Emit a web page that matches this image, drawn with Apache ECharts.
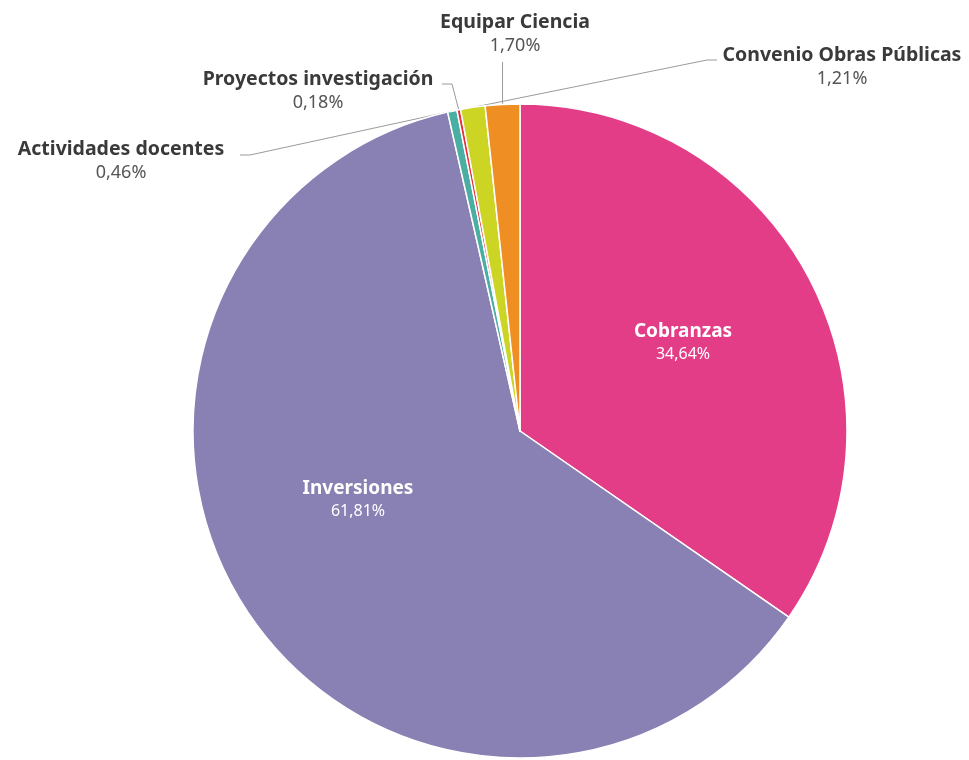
<!DOCTYPE html>
<html>
<head>
<meta charset="utf-8">
<script src="https://cdn.jsdelivr.net/npm/echarts@6/dist/echarts.min.js"></script>
<style>
html,body{margin:0;padding:0;background:#fff;}
#chart{width:969px;height:760px;}
</style>
</head>
<body>
<div id="chart"></div>
<script>
const categories = ['Cobranzas', 'Inversiones', 'Actividades docentes', 'Proyectos investigación', 'Convenio Obras Públicas', 'Equipar Ciencia'];
const values = [34.64, 61.81, 0.46, 0.18, 1.21, 1.70];
const colors = ['#e43d87', '#8980b4', '#4aaea3', '#e8303a', '#ccd424', '#ef8e23'];
const insideLabels = [true, true, false, false, false, false];

// label anchor positions (label box centers) and line elbows
const labelPos = [
  [683, 342],
  [358, 499],
  [121, 160],
  [318, 90],
  [842, 66],
  [515, 33]
];
const lineEnds = [
  null,
  null,
  [[250, 155], [240, 155]],
  [[452, 84], [442, 84]],
  [[707, 60], [717, 60]],
  null
];

const fmt = v => v.toFixed(2).replace('.', ',') + '%';

const data = categories.map((c, i) => ({
  name: c,
  value: values[i],
  itemStyle: { color: colors[i] },
  label: insideLabels[i]
    ? { position: 'inside', rich: { n: { color: '#fff', fontSize: 19, fontWeight: 'bold', fontFamily: 'Noto Sans', lineHeight: 24 }, v: { color: '#fff', fontSize: 16, fontFamily: 'Noto Sans', lineHeight: 20 } } }
    : { position: 'outside' },
  labelLine: { show: !insideLabels[i] }
}));

const chart = echarts.init(document.getElementById('chart'));
chart.setOption({
  animation: false,
  series: [{
    type: 'pie',
    center: [520, 431],
    radius: [0, 327],
    startAngle: 90,
    clockwise: true,
    avoidLabelOverlap: false,
    data: data,
    itemStyle: { borderColor: '#fff', borderWidth: 1.5 },
    label: {
      show: true,
      formatter: p => '{n|' + p.name + '}\n{v|' + fmt(p.value) + '}',
      rich: {
        n: { color: '#3a3a3a', fontSize: 19.5, fontWeight: 'bold', fontFamily: 'Noto Sans', lineHeight: 25, align: 'center' },
        v: { color: '#555', fontSize: 18, fontFamily: 'Noto Sans', lineHeight: 22, align: 'center' }
      }
    },
    labelLine: { show: true, lineStyle: { color: '#9a9a9a', width: 1 }, length: 10, length2: 10 },
    labelLayout: function (params) {
      const i = params.dataIndex;
      const res = { x: labelPos[i][0], y: labelPos[i][1], align: 'center', verticalAlign: 'middle' };
      const pts = params.labelLinePoints;
      if (pts && !insideLabels[i]) {
        const p0 = pts[0];
        if (lineEnds[i]) {
          res.labelLinePoints = [p0, lineEnds[i][0], lineEnds[i][1]];
        } else {
          res.labelLinePoints = [p0, [p0[0], 62], [p0[0], 62]];
        }
      }
      return res;
    }
  }]
});
</script>
</body>
</html>
